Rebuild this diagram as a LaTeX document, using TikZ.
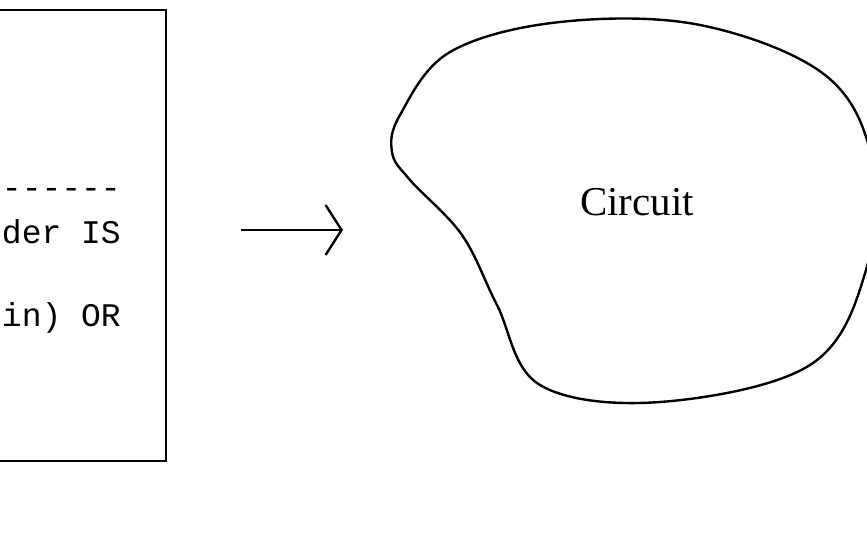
\documentclass[tikz,border=0pt]{standalone}
\usepackage{fontspec}
\setmainfont{Liberation Serif}
\newfontfamily\monof{Liberation Mono}
\begin{document}
\begin{tikzpicture}[x=1pt,y=-1pt,line width=2.4pt,
  codetxt/.style={anchor=east,inner sep=0pt,font=\monof\fontsize{33}{40}\selectfont},
  arr/.style={-{Straight Barb[length=16pt,width=50pt,line width=2.4pt]}}]
\usetikzlibrary{arrows.meta}
\useasboundingbox (0,0) rectangle (867,533);
\draw (-20,10) -- (166,10) -- (166,461) -- (-20,461);
\node[codetxt] (t1) at (122,193) {------};
\node[codetxt] (t2) at (122,232) {der IS};
\node[codetxt] (t3) at (122,318) {in) OR};
\coordinate (a1) at (241,230);
\coordinate (a2) at (343,230);
\draw[arr] (a1) -- (a2);
\draw plot[smooth cycle,tension=0.6] coordinates {(400,115) (450,52) (560,22) (700,25) (825,75) (872,160) (866,270) (810,365) (660,402) (540,385) (497,305) (462,235) (410,180) (392,152)};
\node[font=\fontsize{41}{44}\selectfont] (c) at (637,202) {Circuit};
\end{tikzpicture}
\end{document}
